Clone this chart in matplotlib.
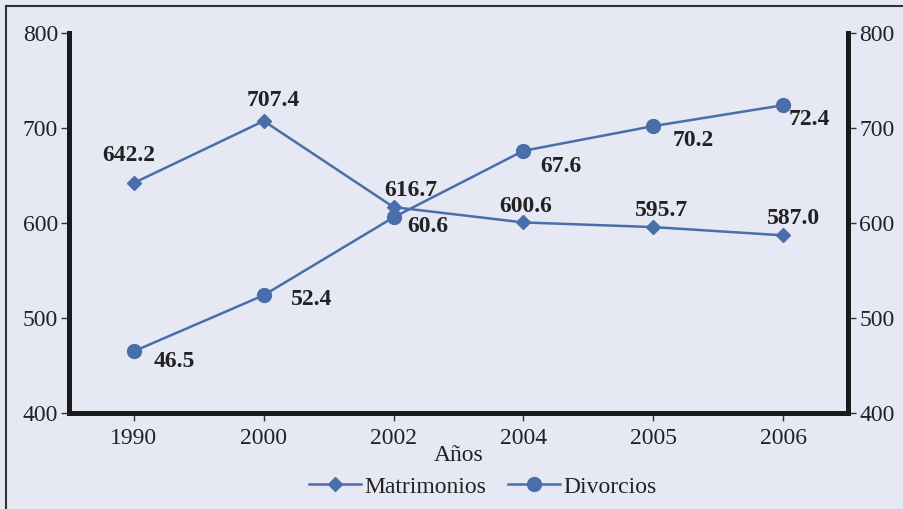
import matplotlib.pyplot as plt
from matplotlib.ticker import FuncFormatter

plt.rcParams['font.family'] = ['Liberation Serif', 'DejaVu Serif']

years = ['1990', '2000', '2002', '2004', '2005', '2006']
matrimonios = [642.2, 707.4, 616.7, 600.6, 595.7, 587.0]
divorcios = [46.5, 52.4, 60.6, 67.6, 70.2, 72.4]

# label offsets in pixels (dx, dy)
off_m = [(-5, 27), (10, 20), (17, 17), (2, 16), (8, 17), (10, 17)]
off_d = [(40, -10), (48, -4), (34, -9), (37, -16), (40, -14), (26, -14)]

bg = '#e6e9f3'
blue = '#4a6ea9'
fs = 17

fig = plt.figure(figsize=(9.04, 5.09), dpi=100, facecolor=bg)
ax = fig.add_axes([69/904, 1-413/509, (848-69)/904, 380/509])
ax.set_facecolor(bg)
ax2 = ax.twinx()

x = list(range(len(years)))
l1, = ax.plot(x, matrimonios, color=blue, lw=1.8, marker='D', ms=7, label='Matrimonios')
l2, = ax2.plot(x, divorcios, color=blue, lw=1.8, marker='o', ms=10, label='Divorcios')

for i, v in enumerate(matrimonios):
    ax.annotate(f'{v:.1f}', (i, v), xytext=(off_m[i][0]*0.72, off_m[i][1]*0.72),
                textcoords='offset points', ha='center', va='center',
                fontsize=fs, fontweight='bold', color='#222222')
for i, v in enumerate(divorcios):
    ax2.annotate(f'{v:.1f}', (i, v), xytext=(off_d[i][0]*0.72, off_d[i][1]*0.72),
                 textcoords='offset points', ha='center', va='center',
                 fontsize=fs, fontweight='bold', color='#222222')

ax.set_xlim(-0.5, 5.5)
ax.set_ylim(400, 800)
ax2.set_ylim(40, 80)
ax.set_xticks(x)
ax.set_xticklabels(years)
ax.set_yticks([400, 500, 600, 700, 800])
ax2.set_yticks([40, 50, 60, 70, 80])
ax2.yaxis.set_major_formatter(FuncFormatter(lambda v, p: f'{v*10:.0f}'))

for a in (ax, ax2):
    a.spines['top'].set_visible(False)
    for s in ('left', 'right', 'bottom'):
        a.spines[s].set_linewidth(3.5)
        a.spines[s].set_color('#1a1a1a')
    a.tick_params(axis='both', labelsize=fs, length=6, width=1, color='#333333',
                  labelcolor='#222222', pad=2)
ax.tick_params(axis='x', pad=5)
ax.set_xlabel('Años', fontsize=fs, color='#222222', labelpad=-3)

fig.legend(handles=[l1, l2], loc='center', bbox_to_anchor=(483/904, 1-487/509),
           ncol=2, frameon=False, fontsize=fs, handlelength=2.2, columnspacing=0.9,
           handletextpad=0.15, labelcolor='#222222')

# outer frame
fig.add_artist(plt.Line2D([6/904, 6/904], [0, 1-6/509], color='#333333', lw=1.5))
fig.add_artist(plt.Line2D([6/904, 1], [1-6/509, 1-6/509], color='#333333', lw=1.5))

fig.savefig('out.png', dpi=100, facecolor=bg)
